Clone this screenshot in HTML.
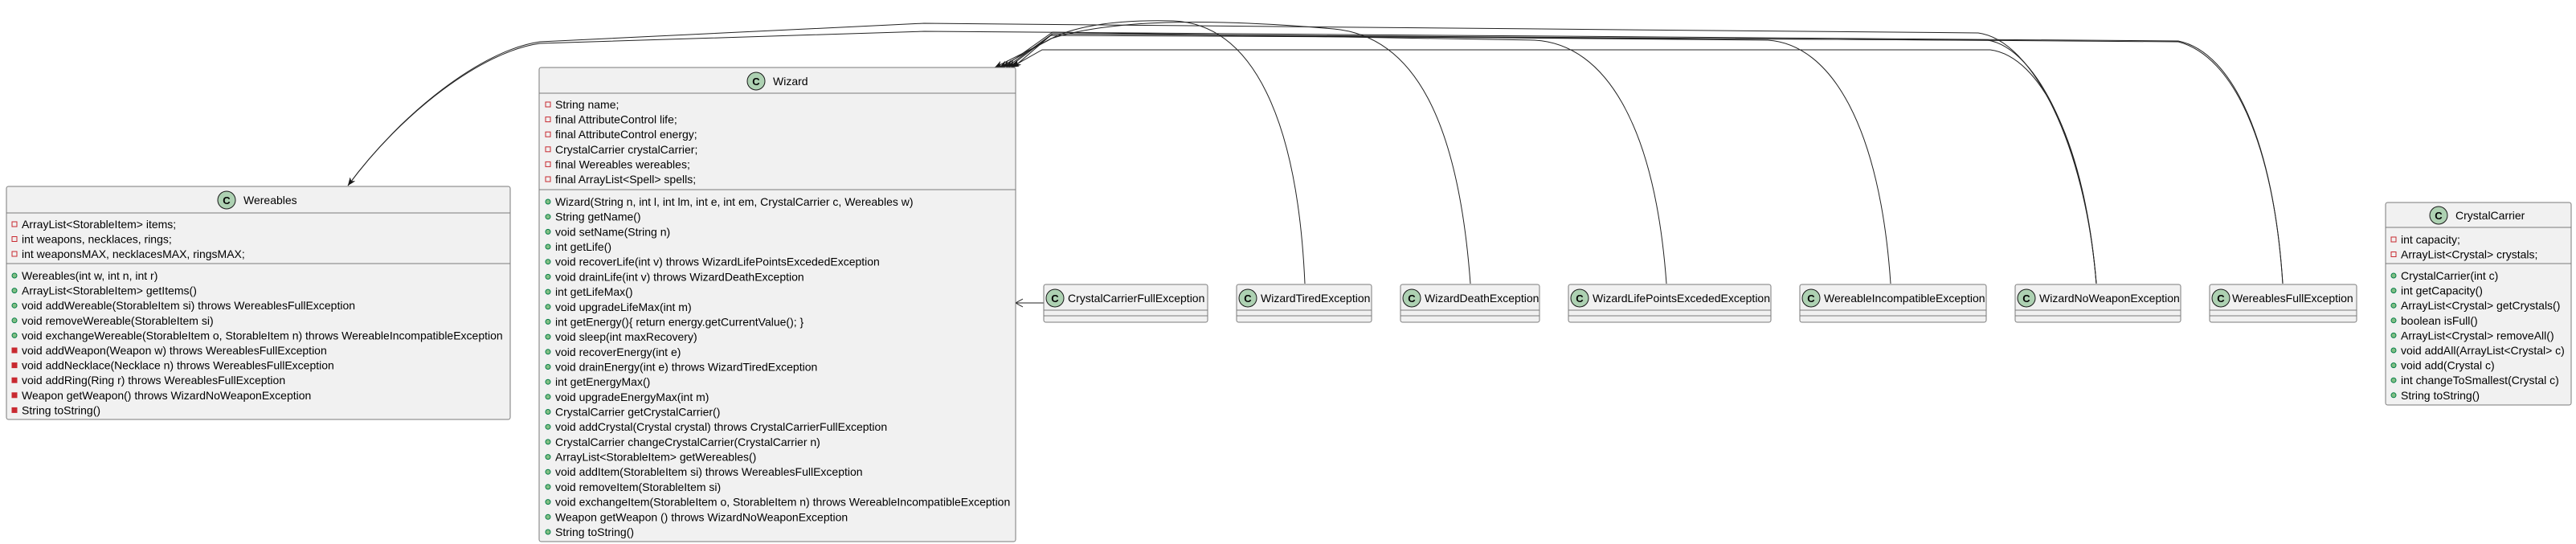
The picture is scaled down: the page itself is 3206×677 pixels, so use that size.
<!DOCTYPE html>
<html><head><meta charset="utf-8"><style>
html,body{margin:0;padding:0;background:#fff;}
svg{display:block;}
text{font-family:"Liberation Sans",Arial,sans-serif;font-size:14px;fill:#000;}
.t{font-size:14px;}
.box{fill:#F1F1F1;stroke:#7a7a7a;stroke-width:1;}
.sep{stroke:#7a7a7a;stroke-width:1;}
.ln{fill:none;stroke:#222;stroke-width:1;}
.cc{fill:#ADD1B2;stroke:#181818;stroke-width:1;}
.cl{font-weight:bold;font-size:13px;}
.pr{fill:none;stroke:#C82930;stroke-width:1;}
.pf{fill:#C82930;stroke:#C82930;stroke-width:1;}
.pu{fill:#84BE84;stroke:#038048;stroke-width:1;}
</style></head><body>
<svg width="3206" height="677" viewBox="0 0 3206 677" xmlns="http://www.w3.org/2000/svg">
<defs>
<marker id="a" markerUnits="userSpaceOnUse" markerWidth="12" markerHeight="10" refX="10" refY="4" orient="auto">
<path d="M0,0 L10,4 L0,8 L3,4 z" fill="#181818"/>
</marker>
</defs>

<path class="ln" marker-end="url(#a)" d="M1624 353 C1615 150 1560 30 1460 26 C1380 24 1330 35 1305 50 L1238 84"/>
<path class="ln" marker-end="url(#a)" d="M1830 353 C1815 150 1760 45 1660 36 C1500 22 1380 25 1308 48 L1244 84"/>
<path class="ln" marker-end="url(#a)" d="M2074 353 C2060 160 2000 55 1910 50 L1310 40 L1248 84"/>
<path class="ln" marker-end="url(#a)" d="M2353 353 C2340 160 2280 55 2200 50 L1310 42 L1252 84"/>
<path class="ln" marker-end="url(#a)" d="M2609 353 C2595 180 2540 70 2477 62 L1297 62 L1258 84"/>
<path class="ln" marker-end="url(#a)" d="M2609 353 C2595 180 2535 60 2474 50 L1308 44 L1255 84"/>
<path class="ln" marker-end="url(#a)" d="M2609 353 C2595 180 2530 50 2462 41 L1150 29 L672 52 C600 62 500 140 433 231"/>
<path class="ln" marker-end="url(#a)" d="M2841 353 C2830 180 2780 70 2711 52 L1310 42 L1261 84"/>
<path class="ln" marker-end="url(#a)" d="M2841 353 C2830 180 2780 65 2711 51 L1150 39 L672 54 C600 64 500 140 433 231"/>
<path class="ln" d="M1299 377 L1264 377 M1273 372 L1264 377 L1273 382" stroke-width="1.2"/>

<rect class="box" x="8" y="232" width="627" height="290" rx="2.5"/>
<line class="sep" x1="8" y1="265" x2="635" y2="265"/>
<line class="sep" x1="8" y1="328" x2="635" y2="328"/>
<circle class="cc" cx="282" cy="249" r="11"/><text class="cl" x="282" y="254" text-anchor="middle">C</text>
<text class="t" x="303" y="254">Wereables</text>
<g>
<rect class="pr" x="15" y="276" width="6" height="6"/><text x="27" y="284">ArrayList&lt;StorableItem&gt; items;</text>
<rect class="pr" x="15" y="294.5" width="6" height="6"/><text x="27" y="302.5">int weapons, necklaces, rings;</text>
<rect class="pr" x="15" y="313" width="6" height="6"/><text x="27" y="321">int weaponsMAX, necklacesMAX, ringsMAX;</text>
</g>
<g>
<circle class="pu" cx="18" cy="343" r="3"/><text x="27" y="348">Wereables(int w, int n, int r)</text>
<circle class="pu" cx="18" cy="361.6" r="3"/><text x="27" y="366.6">ArrayList&lt;StorableItem&gt; getItems()</text>
<circle class="pu" cx="18" cy="380.2" r="3"/><text x="27" y="385.2">void addWereable(StorableItem si) throws WereablesFullException</text>
<circle class="pu" cx="18" cy="398.8" r="3"/><text x="27" y="403.8">void removeWereable(StorableItem si)</text>
<circle class="pu" cx="18" cy="417.4" r="3"/><text x="27" y="422.4">void exchangeWereable(StorableItem o, StorableItem n) throws WereableIncompatibleException</text>
<rect class="pf" x="15" y="433" width="6" height="6"/><text x="27" y="441">void addWeapon(Weapon w) throws WereablesFullException</text>
<rect class="pf" x="15" y="451.6" width="6" height="6"/><text x="27" y="459.6">void addNecklace(Necklace n) throws WereablesFullException</text>
<rect class="pf" x="15" y="470.2" width="6" height="6"/><text x="27" y="478.2">void addRing(Ring r) throws WereablesFullException</text>
<rect class="pf" x="15" y="488.8" width="6" height="6"/><text x="27" y="496.8">Weapon getWeapon() throws WizardNoWeaponException</text>
<rect class="pf" x="15" y="507.4" width="6" height="6"/><text x="27" y="515.4">String toString()</text>
</g>

<rect class="box" x="671" y="84" width="593" height="590" rx="2.5"/>
<line class="sep" x1="671" y1="116" x2="1264" y2="116"/>
<line class="sep" x1="671" y1="236" x2="1264" y2="236"/>
<circle class="cc" cx="941" cy="101" r="11"/><text class="cl" x="941" y="106" text-anchor="middle">C</text>
<text class="t" x="962" y="106">Wizard</text>
<g>
<rect class="pr" x="679" y="127" width="6" height="6"/><text x="691" y="135">String name;</text>
<rect class="pr" x="679" y="145.6" width="6" height="6"/><text x="691" y="153.6">final AttributeControl life;</text>
<rect class="pr" x="679" y="164.2" width="6" height="6"/><text x="691" y="172.2">final AttributeControl energy;</text>
<rect class="pr" x="679" y="182.8" width="6" height="6"/><text x="691" y="190.8">CrystalCarrier crystalCarrier;</text>
<rect class="pr" x="679" y="201.4" width="6" height="6"/><text x="691" y="209.4">final Wereables wereables;</text>
<rect class="pr" x="679" y="220" width="6" height="6"/><text x="691" y="228">final ArrayList&lt;Spell&gt; spells;</text>
</g>
<g>
<circle class="pu" cx="682" cy="251" r="3"/><text x="691" y="256">Wizard(String n, int l, int lm, int e, int em, CrystalCarrier c, Wereables w)</text>
<circle class="pu" cx="682" cy="269.7" r="3"/><text x="691" y="274.7">String getName()</text>
<circle class="pu" cx="682" cy="288.4" r="3"/><text x="691" y="293.4">void setName(String n)</text>
<circle class="pu" cx="682" cy="307" r="3"/><text x="691" y="312">int getLife()</text>
<circle class="pu" cx="682" cy="325.7" r="3"/><text x="691" y="330.7">void recoverLife(int v) throws WizardLifePointsExcededException</text>
<circle class="pu" cx="682" cy="344.4" r="3"/><text x="691" y="349.4">void drainLife(int v) throws WizardDeathException</text>
<circle class="pu" cx="682" cy="363.1" r="3"/><text x="691" y="368.1">int getLifeMax()</text>
<circle class="pu" cx="682" cy="381.8" r="3"/><text x="691" y="386.8">void upgradeLifeMax(int m)</text>
<circle class="pu" cx="682" cy="400.4" r="3"/><text x="691" y="405.4">int getEnergy(){ return energy.getCurrentValue(); }</text>
<circle class="pu" cx="682" cy="419.1" r="3"/><text x="691" y="424.1">void sleep(int maxRecovery)</text>
<circle class="pu" cx="682" cy="437.8" r="3"/><text x="691" y="442.8">void recoverEnergy(int e)</text>
<circle class="pu" cx="682" cy="456.5" r="3"/><text x="691" y="461.5">void drainEnergy(int e) throws WizardTiredException</text>
<circle class="pu" cx="682" cy="475.2" r="3"/><text x="691" y="480.2">int getEnergyMax()</text>
<circle class="pu" cx="682" cy="493.8" r="3"/><text x="691" y="498.8">void upgradeEnergyMax(int m)</text>
<circle class="pu" cx="682" cy="512.5" r="3"/><text x="691" y="517.5">CrystalCarrier getCrystalCarrier()</text>
<circle class="pu" cx="682" cy="531.2" r="3"/><text x="691" y="536.2">void addCrystal(Crystal crystal) throws CrystalCarrierFullException</text>
<circle class="pu" cx="682" cy="549.9" r="3"/><text x="691" y="554.9">CrystalCarrier changeCrystalCarrier(CrystalCarrier n)</text>
<circle class="pu" cx="682" cy="568.6" r="3"/><text x="691" y="573.6">ArrayList&lt;StorableItem&gt; getWereables()</text>
<circle class="pu" cx="682" cy="587.2" r="3"/><text x="691" y="592.2">void addItem(StorableItem si) throws WereablesFullException</text>
<circle class="pu" cx="682" cy="605.9" r="3"/><text x="691" y="610.9">void removeItem(StorableItem si)</text>
<circle class="pu" cx="682" cy="624.6" r="3"/><text x="691" y="629.6">void exchangeItem(StorableItem o, StorableItem n) throws WereableIncompatibleException</text>
<circle class="pu" cx="682" cy="643.3" r="3"/><text x="691" y="648.3">Weapon getWeapon () throws WizardNoWeaponException</text>
<circle class="pu" cx="682" cy="662" r="3"/><text x="691" y="667">String toString()</text>
</g>

<g>
<rect class="box" x="1299" y="354" width="204" height="47" rx="2.5"/>
<line class="sep" x1="1299" y1="386" x2="1503" y2="386"/><line class="sep" x1="1299" y1="393" x2="1503" y2="393"/>
<circle class="cc" cx="1313" cy="371" r="11"/><text class="cl" x="1313" y="376" text-anchor="middle">C</text>
<text class="t" x="1329" y="376">CrystalCarrierFullException</text>

<rect class="box" x="1539" y="354" width="168" height="47" rx="2.5"/>
<line class="sep" x1="1539" y1="386" x2="1707" y2="386"/><line class="sep" x1="1539" y1="393" x2="1707" y2="393"/>
<circle class="cc" cx="1553" cy="371" r="11"/><text class="cl" x="1553" y="376" text-anchor="middle">C</text>
<text class="t" x="1569" y="376">WizardTiredException</text>

<rect class="box" x="1743" y="354" width="173" height="47" rx="2.5"/>
<line class="sep" x1="1743" y1="386" x2="1916" y2="386"/><line class="sep" x1="1743" y1="393" x2="1916" y2="393"/>
<circle class="cc" cx="1757" cy="371" r="11"/><text class="cl" x="1757" y="376" text-anchor="middle">C</text>
<text class="t" x="1773" y="376">WizardDeathException</text>

<rect class="box" x="1952" y="354" width="252" height="47" rx="2.5"/>
<line class="sep" x1="1952" y1="386" x2="2204" y2="386"/><line class="sep" x1="1952" y1="393" x2="2204" y2="393"/>
<circle class="cc" cx="1966" cy="371" r="11"/><text class="cl" x="1966" y="376" text-anchor="middle">C</text>
<text class="t" x="1982" y="376">WizardLifePointsExcededException</text>

<rect class="box" x="2240" y="354" width="232" height="47" rx="2.5"/>
<line class="sep" x1="2240" y1="386" x2="2472" y2="386"/><line class="sep" x1="2240" y1="393" x2="2472" y2="393"/>
<circle class="cc" cx="2254" cy="371" r="11"/><text class="cl" x="2254" y="376" text-anchor="middle">C</text>
<text class="t" x="2270" y="376">WereableIncompatibleException</text>

<rect class="box" x="2508" y="354" width="206" height="47" rx="2.5"/>
<line class="sep" x1="2508" y1="386" x2="2714" y2="386"/><line class="sep" x1="2508" y1="393" x2="2714" y2="393"/>
<circle class="cc" cx="2522" cy="371" r="11"/><text class="cl" x="2522" y="376" text-anchor="middle">C</text>
<text class="t" x="2538" y="376">WizardNoWeaponException</text>

<rect class="box" x="2750" y="354" width="183" height="47" rx="2.5"/>
<line class="sep" x1="2750" y1="386" x2="2933" y2="386"/><line class="sep" x1="2750" y1="393" x2="2933" y2="393"/>
<circle class="cc" cx="2764" cy="371" r="11"/><text class="cl" x="2764" y="376" text-anchor="middle">C</text>
<text class="t" x="2778" y="376">WereablesFullException</text>
</g>

<rect class="box" x="2969" y="252" width="231" height="252" rx="2.5"/>
<line class="sep" x1="2969" y1="283" x2="3200" y2="283"/>
<line class="sep" x1="2969" y1="328" x2="3200" y2="328"/>
<circle class="cc" cx="3035" cy="268" r="11"/><text class="cl" x="3035" y="273" text-anchor="middle">C</text>
<text class="t" x="3056" y="273">CrystalCarrier</text>
<rect class="pr" x="2976" y="295" width="6" height="6"/><text x="2988" y="303">int capacity;</text>
<rect class="pr" x="2976" y="313.5" width="6" height="6"/><text x="2988" y="321.5">ArrayList&lt;Crystal&gt; crystals;</text>
<circle class="pu" cx="2979" cy="343" r="3"/><text x="2988" y="348">CrystalCarrier(int c)</text>
<circle class="pu" cx="2979" cy="361.6" r="3"/><text x="2988" y="366.6">int getCapacity()</text>
<circle class="pu" cx="2979" cy="380.2" r="3"/><text x="2988" y="385.2">ArrayList&lt;Crystal&gt; getCrystals()</text>
<circle class="pu" cx="2979" cy="398.8" r="3"/><text x="2988" y="403.8">boolean isFull()</text>
<circle class="pu" cx="2979" cy="417.4" r="3"/><text x="2988" y="422.4">ArrayList&lt;Crystal&gt; removeAll()</text>
<circle class="pu" cx="2979" cy="436" r="3"/><text x="2988" y="441">void addAll(ArrayList&lt;Crystal&gt; c)</text>
<circle class="pu" cx="2979" cy="454.6" r="3"/><text x="2988" y="459.6">void add(Crystal c)</text>
<circle class="pu" cx="2979" cy="473.2" r="3"/><text x="2988" y="478.2">int changeToSmallest(Crystal c)</text>
<circle class="pu" cx="2979" cy="491.8" r="3"/><text x="2988" y="496.8">String toString()</text>
</svg>
</body></html>
